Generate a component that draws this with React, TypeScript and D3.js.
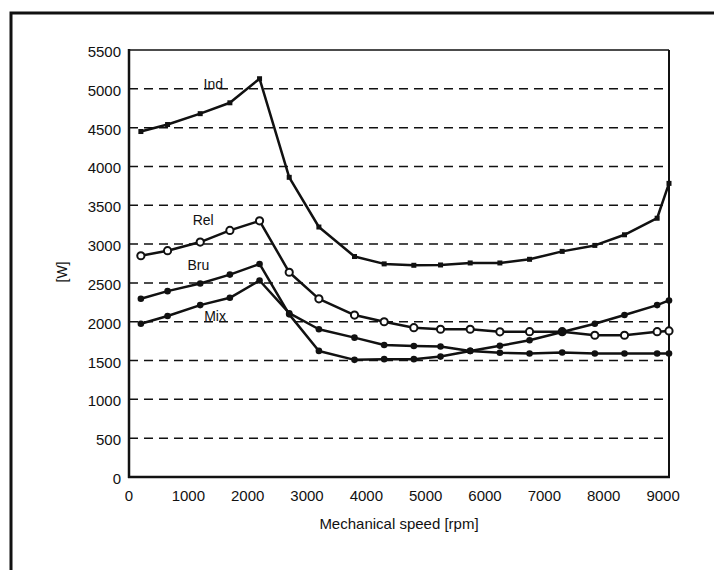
import React from "react";
import * as d3 from "d3";

const speeds = [200, 650, 1200, 1700, 2200, 2700, 3200, 3800, 4300, 4800, 5250, 5750, 6250, 6750, 7300, 7850, 8350, 8900, 9100];
const indW = [4450, 4540, 4680, 4820, 5130, 3860, 3220, 2840, 2745, 2727, 2731, 2757, 2757, 2804, 2906, 2983, 3120, 3333, 3782];
const relW = [2850, 2915, 3026, 3176, 3300, 2637, 2295, 2086, 2000, 1923, 1903, 1903, 1870, 1872, 1872, 1826, 1826, 1872, 1881];
const bruW = [2295, 2394, 2492, 2607, 2744, 2095, 1624, 1509, 1518, 1518, 1551, 1624, 1690, 1761, 1868, 1974, 2086, 2214, 2274];
const mixW = [1974, 2073, 2214, 2308, 2531, 2110, 1903, 1795, 1701, 1688, 1680, 1624, 1600, 1590, 1603, 1590, 1590, 1590, 1590];

const xTicks = [0, 1000, 2000, 3000, 4000, 5000, 6000, 7000, 8000, 9000];
const yTicks = [0, 500, 1000, 1500, 2000, 2500, 3000, 3500, 4000, 4500, 5000, 5500];
const gridValues = [500, 1000, 1500, 2000, 2500, 3000, 3500, 4000, 4500, 5000];

const seriesLabels = [
  { name: "Ind", rpm: 1420, w: 5045 },
  { name: "Rel", rpm: 1250, w: 3300 },
  { name: "Bru", rpm: 1170, w: 2720 },
  { name: "Mix", rpm: 1450, w: 2060 },
];

const FONT = "'Liberation Sans', Arial, sans-serif";
const INK = "#111";

export default function App() {
  const x = d3.scaleLinear().domain([0, 9100]).range([129, 669]);
  const y = d3.scaleLinear().domain([0, 5500]).range([477, 50]);
  const line = d3
    .line<number>()
    .x((_, i) => x(speeds[i]))
    .y((d) => y(d));

  const left = x(0);
  const right = x(9100);
  const top = y(5500);
  const bottom = y(0);

  return (
    <svg
      width={714}
      height={570}
      style={{ position: "absolute", left: 0, top: 0, background: "#fff" }}
      fontFamily={FONT}
    >
      <rect x={0} y={0} width={714} height={570} fill="#fff" />
      {/* outer frame */}
      <path d="M11,575 V13 H720" fill="none" stroke={INK} strokeWidth={3} />

      {/* gridlines */}
      {gridValues.map((v) => (
        <line
          key={v}
          x1={left}
          x2={right}
          y1={y(v)}
          y2={y(v)}
          stroke={INK}
          strokeWidth={1.5}
          strokeDasharray="9,6"
        />
      ))}

      {/* plot frame */}
      <line x1={left} x2={right} y1={top} y2={top} stroke={INK} strokeWidth={1.5} />
      <line x1={right} x2={right} y1={top} y2={bottom} stroke={INK} strokeWidth={2} />
      <line x1={left} x2={left} y1={top - 1} y2={bottom + 1} stroke={INK} strokeWidth={2.5} />
      <line x1={left - 1} x2={right + 1} y1={bottom} y2={bottom} stroke={INK} strokeWidth={2.5} />

      {/* y tick labels */}
      {yTicks.map((v) => (
        <text
          key={v}
          x={121}
          y={y(v) + 3}
          textAnchor="end"
          dominantBaseline="middle"
          fontSize={15}
          fill={INK}
        >
          {v}
        </text>
      ))}

      {/* x tick labels */}
      {xTicks.map((v) => (
        <text
          key={v}
          x={x(v)}
          y={497}
          textAnchor="middle"
          dominantBaseline="middle"
          fontSize={15}
          fill={INK}
        >
          {v}
        </text>
      ))}

      <text x={399} y={525} textAnchor="middle" dominantBaseline="middle" fontSize={15} fill={INK}>
        Mechanical speed [rpm]
      </text>
      <text
        transform={`translate(63,272) rotate(-90)`}
        textAnchor="middle"
        dominantBaseline="middle"
        fontSize={14}
        fill={INK}
      >
        [W]
      </text>

      {/* series lines */}
      {[indW, relW, bruW, mixW].map((s, k) => (
        <path key={k} d={line(s) || ""} fill="none" stroke={INK} strokeWidth={2.5} strokeLinejoin="round" />
      ))}

      {/* markers */}
      {indW.map((v, i) => (
        <rect key={"i" + i} x={x(speeds[i]) - 2.5} y={y(v) - 2.5} width={5} height={5} fill={INK} />
      ))}
      {relW.map((v, i) => (
        <circle key={"r" + i} cx={x(speeds[i])} cy={y(v)} r={3.6} fill="#fff" stroke={INK} strokeWidth={2} />
      ))}
      {bruW.map((v, i) => (
        <circle key={"b" + i} cx={x(speeds[i])} cy={y(v)} r={3.3} fill={INK} />
      ))}
      {mixW.map((v, i) => (
        <circle key={"m" + i} cx={x(speeds[i])} cy={y(v)} r={3.3} fill={INK} />
      ))}

      {/* series labels */}
      {seriesLabels.map((l) => (
        <text
          key={l.name}
          x={x(l.rpm)}
          y={y(l.w)}
          textAnchor="middle"
          dominantBaseline="middle"
          fontSize={14}
          fill={INK}
        >
          {l.name}
        </text>
      ))}
    </svg>
  );
}
